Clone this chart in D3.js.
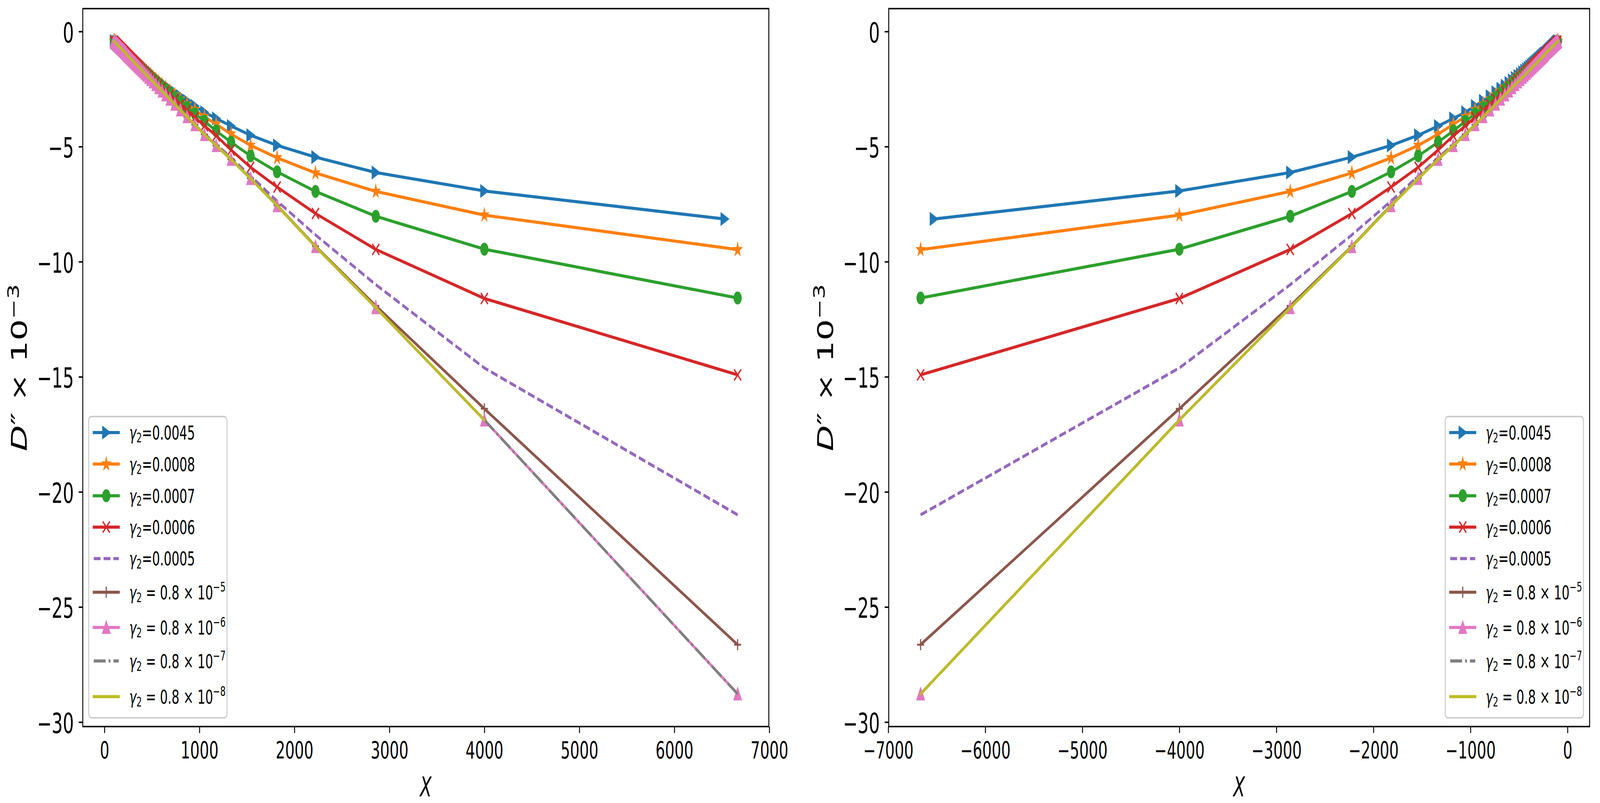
<!DOCTYPE html>
<html>
<head>
<meta charset="utf-8">
<script src="https://cdn.jsdelivr.net/npm/d3@7"></script>
<style>
html, body { margin: 0; padding: 0; width: 100%; height: 100%; overflow: hidden; background: #fff; }
svg { display: block; width: 100vw; height: 100vh; }
text { font-family: "DejaVu Sans"; white-space: pre; }
</style>
</head>
<body>
<script>
//sample positions along X, shared by every curve (dense towards the origin)
var xValues = [6666.7, 4000, 2857.1, 2222.2, 1818.2, 1538.5, 1333.3, 1176.5, 1052.6, 952.4,
    869.6, 800, 740.7, 689.7, 645.2, 606.1, 571.4, 540.5, 512.8, 487.8,
    465.1, 444.4, 425.5, 408.2, 392.2, 377.4, 363.6, 350.9, 339, 327.9,
    317.5, 307.7, 298.5, 289.9, 281.7, 274, 266.7, 259.7, 253.2, 246.9,
    241, 235.3, 229.9, 224.7, 219.8, 215.1, 210.5, 206.2, 202, 198,
    194.2, 190.5, 186.9, 183.5, 180.2, 177, 173.9, 170.9, 168.1, 165.3,
    162.6, 160, 157.5, 155, 152.7, 150.4, 148.1, 146, 143.9, 141.8,
    139.9, 137.9, 136.1, 134.2, 132.5, 130.7, 129, 127.4, 125.8, 124.2,
    122.7, 121.2, 119.8, 118.3, 117, 115.6, 114.3, 113, 111.7, 110.5,
    109.3, 108.1, 107, 105.8, 104.7, 103.6, 102.6, 101.5, 100.5];
//the blue curve stops a bit short of the others
var xBlueLast = 6530;

//first nine points (large X), one list per curve
var headBlue = [-8.15, -6.93, -6.13, -5.46, -4.95, -4.51, -4.11, -3.78, -3.51];
var headOrange = [-9.48, -7.98, -6.95, -6.15, -5.49, -4.95, -4.46, -4.03, -3.70];
var headGreen = [-11.58, -9.46, -8.03, -6.95, -6.10, -5.41, -4.81, -4.32, -3.90];
var headRed = [-14.92, -11.6, -9.47, -7.91, -6.76, -5.90, -5.15, -4.53, -4.10];
var headPurple = [-21.0, -14.62, -11.0, -8.84, -7.37, -6.28, -5.48, -4.90, -4.45];
var headBrown = [-26.64, -16.39, -11.92, -9.33, -7.55, -6.38, -5.55, -4.96, -4.47];
var headLinear = [-28.78, -16.88, -12.0, -9.35, -7.57, -6.39, -5.56, -4.96, -4.48];

//points 10-42, where the curves bunch together
var midBlue = [-3.240, -3.014, -2.817, -2.644, -2.492, -2.355, -2.233, -2.123, -2.023, -1.932,
    -1.850, -1.774, -1.704, -1.639, -1.579, -1.524, -1.471, -1.422, -1.378, -1.334,
    -1.294, -1.257, -1.221, -1.188, -1.156, -1.125, -1.097, -1.070, -1.043, -1.019,
    -0.995, -0.973, -0.951];
var midOrange = [-3.406, -3.157, -2.941, -2.753, -2.588, -2.442, -2.310, -2.193, -2.087, -1.990,
    -1.903, -1.822, -1.748, -1.680, -1.617, -1.559, -1.505, -1.453, -1.407, -1.361,
    -1.320, -1.281, -1.244, -1.209, -1.176, -1.145, -1.115, -1.087, -1.060, -1.035,
    -1.010, -0.988, -0.965];
var midGreen = [-3.576, -3.303, -3.067, -2.864, -2.686, -2.528, -2.388, -2.262, -2.150, -2.047,
    -1.955, -1.870, -1.792, -1.720, -1.654, -1.594, -1.537, -1.483, -1.435, -1.388,
    -1.345, -1.305, -1.266, -1.230, -1.196, -1.163, -1.133, -1.104, -1.076, -1.050,
    -1.025, -1.002, -0.978];
var midRed = [-3.737, -3.439, -3.184, -2.966, -2.775, -2.607, -2.458, -2.326, -2.207, -2.099,
    -2.002, -1.913, -1.832, -1.757, -1.688, -1.625, -1.566, -1.510, -1.460, -1.411,
    -1.367, -1.325, -1.285, -1.248, -1.214, -1.180, -1.148, -1.119, -1.090, -1.063,
    -1.038, -1.014, -0.990];
var midLinear = [-4.055, -3.706, -3.413, -3.163, -2.947, -2.758, -2.592, -2.445, -2.314, -2.196,
    -2.090, -1.993, -1.905, -1.824, -1.750, -1.682, -1.619, -1.560, -1.506, -1.455,
    -1.407, -1.363, -1.321, -1.282, -1.245, -1.210, -1.177, -1.146, -1.115, -1.087,
    -1.061, -1.036, -1.011];

//points 43-99, every curve on top of each other near the origin
var tail = [-0.962, -0.941, -0.920, -0.901, -0.882, -0.865, -0.848,
    -0.831, -0.816, -0.801, -0.787, -0.772, -0.759, -0.746, -0.733, -0.721, -0.709,
    -0.698, -0.686, -0.676, -0.665, -0.655, -0.645, -0.635, -0.626, -0.617, -0.609,
    -0.600, -0.592, -0.583, -0.577, -0.568, -0.561, -0.554, -0.547, -0.540, -0.533,
    -0.526, -0.521, -0.514, -0.508, -0.502, -0.496, -0.491, -0.486, -0.480, -0.474,
    -0.469, -0.464, -0.460, -0.455, -0.450, -0.445, -0.441, -0.436, -0.432, -0.427];

//legend values
var gammaValues = ["0.0045", "0.0008", "0.0007", "0.0006", "0.0005"];
var gammaExponents = ["\u22125", "\u22126", "\u22127", "\u22128"];

//ticks
var yTicks = [0, -5, -10, -15, -20, -25, -30];
var xTicksLeft = [0, 1000, 2000, 3000, 4000, 5000, 6000, 7000];
var xTicksRight = [-7000, -6000, -5000, -4000, -3000, -2000, -1000, 0];

var xBlue = [xBlueLast].concat(xValues.slice(1));

var series = [
    {color: "#1f77b4", marker: "triRight", xs: xBlue, ys: headBlue.concat(midBlue, tail), value: gammaValues[0]},
    {color: "#ff7f0e", marker: "star", xs: xValues, ys: headOrange.concat(midOrange, tail), value: gammaValues[1]},
    {color: "#2ca02c", marker: "circle", xs: xValues, ys: headGreen.concat(midGreen, tail), value: gammaValues[2]},
    {color: "#d62728", marker: "x", xs: xValues, ys: headRed.concat(midRed, tail), value: gammaValues[3]},
    {color: "#9467bd", marker: null, dash: "18.5,8", xs: xValues, ys: headPurple.concat(midLinear, tail), value: gammaValues[4]},
    {color: "#8c564b", marker: "plus", xs: xValues, ys: headBrown.concat(midLinear, tail), exp: gammaExponents[0]},
    {color: "#e377c2", marker: "triUp", xs: xValues, ys: headLinear.concat(midLinear, tail), exp: gammaExponents[1]},
    {color: "#7f7f7f", marker: null, dash: "32,8,5,8", xs: xValues, ys: headLinear.concat(midLinear, tail), exp: gammaExponents[2]},
    //on the left panel this curve has no point at the far end
    {color: "#bcbd22", marker: null, xs: xValues, ys: headLinear.concat(midLinear, tail), exp: gammaExponents[3], skipFirstLeft: true}
];

//the figure is drawn at 4310x1370 and stretched vertically, like the original
var W = 4310, H = 2055, SY = 1.5;
var top0 = 14.7, bottom0 = 1239.6;
var ms = 9.5, mew = 3.1, lw = 5.3;
var legendTop = 710.7, legendW = 372.5, legendH = 514;
var rowOffsets = [27.3, 81, 135.1, 188.6, 242.3, 299.7, 359.8, 417, 477.8];

//viewBox keeps the whole figure inside the window whatever its css size
var svg = d3.select("body").append("svg")
    .attr("viewBox", "0 0 " + W + " " + H)
    .attr("preserveAspectRatio", "none");
svg.append("rect").attr("width", W).attr("height", H).attr("fill", "#fff");
var root = svg.append("g").attr("transform", "scale(1," + SY + ")");

//ranges with matplotlib's 5% margin
var allY = [];
series.forEach(function(s){ allY = allY.concat(s.ys); });
var yExt = d3.extent(allY), yPad = (yExt[1] - yExt[0]) * 0.05;
var xExt = d3.extent(xValues), xPad = (xExt[1] - xExt[0]) * 0.05;

var panels = [
    {x0: 223, x1: 2071, sign: 1, ticks: xTicksLeft, legendX: 239, ylabelX: 72,
     domain: [xExt[0] - xPad, xExt[1] + xPad]},
    {x0: 2394, x1: 4282, sign: -1, ticks: xTicksRight, legendX: 3893, ylabelX: 2243,
     domain: [-xExt[1] - xPad, -xExt[0] + xPad]}
];

function markerPath(type) {
    var r = ms;
    if (type === "triRight") return "M" + r + ",0L" + (-r) + "," + r + "L" + (-r) + "," + (-r) + "Z";
    if (type === "triUp") return "M0," + (-r) + "L" + r + "," + r + "L" + (-r) + "," + r + "Z";
    if (type === "circle") return "M" + r + ",0A" + r + "," + r + " 0 1,1 " + (-r) + ",0A" + r + "," + r + " 0 1,1 " + r + ",0Z";
    if (type === "x") return "M" + (-r) + "," + (-r) + "L" + r + "," + r + "M" + (-r) + "," + r + "L" + r + "," + (-r);
    if (type === "plus") return "M" + (-r) + ",0L" + r + ",0M0," + (-r) + "L0," + r;
    //five pointed star
    var pts = [];
    for (var i = 0; i < 10; i++) {
        var rr = i % 2 === 0 ? r : r * 0.381966;
        var a = -Math.PI / 2 + i * Math.PI / 5;
        pts.push((rr * Math.cos(a)).toFixed(2) + "," + (rr * Math.sin(a)).toFixed(2));
    }
    return "M" + pts.join("L") + "Z";
}

function styleMarker(sel, s) {
    var open = s.marker === "x" || s.marker === "plus";
    sel.attr("d", markerPath(s.marker))
        .attr("fill", open ? "none" : s.color)
        .attr("stroke", s.color)
        .attr("stroke-width", mew)
        .attr("stroke-linejoin", "miter")
        .attr("stroke-linecap", "butt");
}

panels.forEach(function(p, pi) {
    var g = root.append("g");

    var x = d3.scaleLinear().domain(p.domain).range([p.x0, p.x1]);
    var y = d3.scaleLinear().domain([yExt[0] - yPad, yExt[1] + yPad]).range([bottom0, top0]);

    //curves, each line followed by its markers
    series.forEach(function(s) {
        var pts = s.xs.map(function(d, i){ return {x: d * p.sign, y: s.ys[i]}; });
        if (pi === 0 && s.skipFirstLeft) pts = pts.slice(1);

        var line = d3.line()
            .x(function(d){ return x(d.x); })
            .y(function(d){ return y(d.y); });

        g.append("path")
            .datum(pts)
            .attr("d", line)
            .attr("fill", "none")
            .attr("stroke", s.color)
            .attr("stroke-width", lw)
            .attr("stroke-linejoin", "round")
            .attr("stroke-linecap", s.dash ? "butt" : "square")
            .attr("stroke-dasharray", s.dash || null);

        if (s.marker) {
            g.selectAll(null)
                .data(pts)
                .enter()
                .append("path")
                .attr("transform", function(d){ return "translate(" + x(d.x) + "," + y(d.y) + ")"; })
                .call(styleMarker, s);
        }
    });

    //axes
    var gy = g.append("g")
        .attr("transform", "translate(" + p.x0 + ",0)")
        .call(d3.axisLeft(y).tickValues(yTicks).tickSize(11).tickPadding(13).tickFormat(d3.format("d")));
    var gx = g.append("g")
        .attr("transform", "translate(0," + bottom0 + ")")
        .call(d3.axisBottom(x).tickValues(p.ticks).tickSize(11).tickPadding(15).tickFormat(d3.format("d")));
    [gy, gx].forEach(function(a){
        a.select(".domain").remove();
        a.attr("font-family", null).attr("font-size", null);
        a.selectAll(".tick line").attr("stroke", "#000").attr("stroke-width", 2.5);
        a.selectAll(".tick text").attr("fill", "#000");
    });
    gy.selectAll(".tick text").attr("font-size", 47).attr("dy", "0.39em");
    gx.selectAll(".tick text").attr("font-size", 40);

    //spines
    g.append("rect")
        .attr("x", p.x0).attr("y", top0)
        .attr("width", p.x1 - p.x0).attr("height", bottom0 - top0)
        .attr("fill", "none")
        .attr("stroke", "#000")
        .attr("stroke-width", 2.5);

    //axis labels
    g.append("text")
        .attr("x", (p.x0 + p.x1) / 2)
        .attr("y", 1359)
        .attr("text-anchor", "middle")
        .attr("font-size", 46)
        .attr("font-style", "italic")
        .text("X");

    var yl = g.append("text")
        .attr("transform", "translate(" + p.ylabelX + "," + ((top0 + bottom0) / 2) + ") rotate(-90)")
        .attr("text-anchor", "middle")
        .attr("font-size", 58);
    yl.append("tspan").attr("font-style", "italic").text("D");
    yl.append("tspan").text("\u2033 \u00d7 10");
    yl.append("tspan").attr("font-size", 40.6).attr("dy", -22).text("\u22123");

    //legend
    var bx = p.legendX;
    var lg = g.append("g");
    lg.append("rect")
        .attr("x", bx).attr("y", legendTop)
        .attr("width", legendW).attr("height", legendH)
        .attr("rx", 7)
        .attr("fill", "#fff").attr("fill-opacity", 0.8)
        .attr("stroke", "#cccccc").attr("stroke-width", 2.6);

    series.forEach(function(s, i) {
        var ry = legendTop + rowOffsets[i];
        lg.append("line")
            .attr("x1", bx + 13.5).attr("x2", bx + 81)
            .attr("y1", ry).attr("y2", ry)
            .attr("stroke", s.color)
            .attr("stroke-width", lw)
            .attr("stroke-linecap", s.dash ? "butt" : "square")
            .attr("stroke-dasharray", s.dash || null);
        if (s.marker) {
            lg.append("path")
                .attr("transform", "translate(" + (bx + 47.25) + "," + ry + ")")
                .call(styleMarker, s);
        }
        var t = lg.append("text")
            .attr("x", bx + 109)
            .attr("y", ry + 12)
            .attr("font-size", 33);
        t.append("tspan").attr("font-style", "italic").text("\u03b3");
        t.append("tspan").attr("font-size", 23).attr("dy", 5).text("2");
        if (s.value) {
            t.append("tspan").attr("dy", -5).text("=" + s.value);
        } else {
            t.append("tspan").attr("dy", -5).text(" = 0.8 \u00d7 10");
            t.append("tspan").attr("font-size", 23).attr("dy", -13).text(s.exp);
        }
    });
});
</script>
</body>
</html>
